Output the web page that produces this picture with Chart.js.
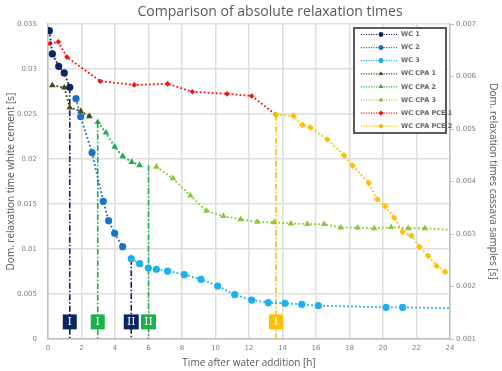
<!DOCTYPE html>
<html>
<head>
<meta charset="utf-8">
<script src="https://cdn.jsdelivr.net/npm/chart.js@4.4.1/dist/chart.umd.min.js"></script>
<style>
  html, body { margin: 0; padding: 0; background: #fff; }
</style>
</head>
<body>
<canvas id="chart" width="502" height="371"></canvas>
<script>
// time after water addition [h] / dominant relaxation time [s]
const wc1Time = [0.08, 0.26, 0.64, 0.97, 1.30]
const wc1Tau  = [0.03426, 0.03167, 0.0303, 0.02956, 0.02797]
const wc2Time = [1.67, 1.95, 2.63, 3.30, 3.62, 3.98, 4.46]
const wc2Tau  = [0.0267, 0.0247, 0.0207, 0.0153, 0.01315, 0.01174, 0.01026]
const wc3Time = [4.97, 5.47, 5.99, 6.47, 7.14, 8.14, 9.13, 10.13, 11.15, 12.16, 13.15, 14.15, 15.15, 16.14, 20.18, 21.17, 24.5]
const wc3Tau  = [0.00892, 0.00837, 0.00789, 0.00774, 0.00755, 0.00715, 0.00663, 0.00589, 0.00493, 0.00433, 0.00404, 0.00396, 0.00385, 0.0037, 0.00352, 0.00352, 0.0034]

// cassava samples (right axis)
const cpa1Time = [0.26, 0.97, 1.30, 1.95, 2.47]
const cpa1Tau  = [0.00583, 0.00579, 0.00541, 0.00534, 0.00524]
const cpa2Time = [2.97, 3.46, 3.98, 4.46, 5.0, 5.47]
const cpa2Tau  = [0.00513, 0.00493, 0.00466, 0.00448, 0.00437, 0.00431]
const cpa3Time = [6.47, 7.46, 8.5, 9.47, 10.47, 11.5, 12.5, 13.49, 14.5, 15.48, 16.48, 17.48, 18.49, 19.48, 20.48, 21.51, 22.51, 24.5]
const cpa3Tau  = [0.00428, 0.00406, 0.00373, 0.00344, 0.00334, 0.00328, 0.00323, 0.00322, 0.0032, 0.00319, 0.00319, 0.00312, 0.00312, 0.00311, 0.00313, 0.00311, 0.00311, 0.00307]
const pce1Time = [0.12, 0.62, 1.13, 3.12, 5.15, 7.14, 8.62, 10.69, 12.16, 13.61]
const pce1Tau  = [0.00663, 0.00666, 0.00637, 0.00591, 0.00584, 0.00586, 0.00571, 0.00567, 0.00563, 0.00527]
const pce2Time = [13.61, 14.65, 15.18, 15.66, 16.68, 17.67, 18.19, 19.15, 19.66, 20.14, 20.66, 21.18, 21.69, 22.19, 22.7, 23.2, 23.7, 24.5]
const pce2Tau  = [0.00527, 0.00525, 0.00508, 0.00503, 0.0048, 0.0045, 0.0043, 0.00397, 0.00366, 0.00353, 0.00331, 0.00304, 0.00297, 0.00275, 0.00258, 0.00239, 0.00228, 0.00218]

// phase markers (vertical dash-dot lines)
const guideLabels = ['I', 'I', 'II', 'II', 'I']
const guideTime   = [1.30, 2.97, 4.97, 6.0, 13.61]
const guideTop    = [0.02797, 0.00513, 0.00892, 0.00431, 0.00527]
const guideAxis   = ['y', 'y1', 'y', 'y1', 'y1']
const labelLevel  = 0.0019

const NAVY = '#0c2461', BLUE = '#1c72c8', SKY = '#1cb0f0'
const OLIVE = '#3b5010', GREEN = '#1bb14a', LIME = '#8cc83c'
const RED = '#ff1010', ORANGE = '#ffc000'
const guideColors = [NAVY, GREEN, NAVY, GREEN, ORANGE]

const pts = (xs, ys) => xs.map((x, i) => ({ x: x, y: ys[i] }))

function series(label, xs, ys, color, axis, style, radius, order) {
  return {
    label: label,
    data: pts(xs, ys),
    yAxisID: axis,
    order: order || 0,
    borderColor: color,
    backgroundColor: color,
    borderWidth: 1.8,
    borderDash: [1.8, 2.2],
    pointStyle: style,
    pointRadius: radius,
    pointHoverRadius: radius,
    pointBorderWidth: 0,
    showLegend: true
  }
}

const datasets = [
  series('WC 1', wc1Time, wc1Tau, NAVY, 'y', 'circle', 3.6),
  series('WC 2', wc2Time, wc2Tau, BLUE, 'y', 'circle', 3.6),
  series('WC 3', wc3Time, wc3Tau, SKY, 'y', 'circle', 3.6),
  series('WC CPA 1', cpa1Time, cpa1Tau, OLIVE, 'y1', 'triangle', 3.8),
  series('WC CPA 2', cpa2Time, cpa2Tau, GREEN, 'y1', 'triangle', 3.8),
  series('WC CPA 3', cpa3Time, cpa3Tau, LIME, 'y1', 'triangle', 3.8),
  series('WC CPA PCE 1', pce1Time, pce1Tau, RED, 'y1', 'rectRot', 2.8, 1),
  series('WC CPA PCE 2', pce2Time, pce2Tau, ORANGE, 'y1', 'rectRot', 3.3)
]

guideTime.forEach((t, i) => {
  const bottom = guideAxis[i] === 'y' ? 0 : 0.001
  datasets.push({
    label: 'guide ' + i,
    data: [{ x: t, y: guideTop[i] }, { x: t, y: bottom }],
    yAxisID: guideAxis[i],
    order: 2,
    borderColor: guideColors[i],
    borderWidth: 1.6,
    borderDash: [6, 2, 1.5, 2],
    pointRadius: 0,
    showLegend: false
  })
})

// title drawn slightly right of centre, as in the original
const titlePlugin = {
  id: 'titleText',
  afterDraw(chart) {
    const ctx = chart.ctx
    ctx.save()
    ctx.font = '14px "Open Sans"'
    ctx.fillStyle = '#595959'
    ctx.textAlign = 'center'
    ctx.textBaseline = 'middle'
    ctx.fillText('Comparison of absolute relaxation times', 270, 12)
    ctx.restore()
  }
}

// roman numeral boxes on the guide lines
const phasePlugin = {
  id: 'phaseBoxes',
  afterDatasetsDraw(chart) {
    const ctx = chart.ctx
    const yPix = chart.scales.y.getPixelForValue(labelLevel)
    ctx.save()
    guideTime.forEach((t, i) => {
      const xPix = chart.scales.x.getPixelForValue(t)
      const w = guideLabels[i].length > 1 ? 15 : 14
      ctx.fillStyle = guideColors[i]
      ctx.fillRect(xPix - w / 2, yPix - 7.5, w, 15)
      ctx.fillStyle = '#fff'
      ctx.font = '11px "DejaVu Serif"'
      ctx.textAlign = 'center'
      ctx.textBaseline = 'middle'
      ctx.fillText(guideLabels[i], xPix, yPix + 0.5)
    })
    ctx.restore()
  }
}

// boxed legend inside the plot area
const legendPlugin = {
  id: 'boxLegend',
  afterDraw(chart) {
    const ctx = chart.ctx
    const left = 354, top = 28, w = 92, h = 105
    ctx.save()
    ctx.fillStyle = '#fff'
    ctx.fillRect(left, top, w, h)
    ctx.strokeStyle = '#333'
    ctx.lineWidth = 1.6
    ctx.strokeRect(left, top, w, h)
    const items = chart.data.datasets.filter(d => d.showLegend)
    items.forEach((d, i) => {
      const y = top + 6.5 + i * 13.1
      ctx.strokeStyle = d.borderColor
      ctx.lineWidth = 1.2
      ctx.setLineDash([1.2, 1.3])
      ctx.beginPath()
      ctx.moveTo(left + 7, y)
      ctx.lineTo(left + 44, y)
      ctx.stroke()
      ctx.setLineDash([])
      Chart.helpers.drawPoint(ctx, {
        pointStyle: d.pointStyle, radius: 2.4, rotation: 0, borderWidth: 0
      }, left + 27, y)
      ctx.fillStyle = d.borderColor
      ctx.fill()
      ctx.fillStyle = '#666'
      ctx.font = 'bold 6.5px "DejaVu Sans"'
      ctx.textAlign = 'left'
      ctx.textBaseline = 'middle'
      ctx.fillText(d.label, left + 47, y)
    })
    ctx.restore()
  }
}

const tickFmt = v => String(+v.toFixed(4))
const GRID = '#dedede', AXIS = '#bfbfbf', TEXT = '#595959', TICK = '#7f7f7f'

new Chart(document.getElementById('chart').getContext('2d'), {
  type: 'line',
  data: { datasets: datasets },
  plugins: [titlePlugin, phasePlugin, legendPlugin],
  options: {
    responsive: false,
    animation: false,
    layout: { padding: { top: 24, left: 0, right: 0, bottom: 0 } },
    plugins: {
      legend: { display: false },
      title: { display: false },
      tooltip: { enabled: false }
    },
    scales: {
      x: {
        type: 'linear',
        min: 0,
        max: 24,
        afterFit: s => { s.height = 32 },
        ticks: { stepSize: 2, padding: 5, color: TICK, font: { family: 'DejaVu Sans', size: 7 } },
        grid: { color: GRID, lineWidth: 1.5, drawTicks: false },
        border: { color: AXIS, width: 1.5 },
        title: {
          display: true,
          text: 'Time after water addition [h]',
          color: TEXT,
          font: { family: 'Open Sans', size: 10 },
          padding: { top: 0, bottom: 2 }
        }
      },
      y: {
        type: 'linear',
        position: 'left',
        min: 0,
        max: 0.035,
        afterFit: s => { s.width = 48 },
        ticks: { stepSize: 0.005, padding: 11, color: TICK, callback: tickFmt, font: { family: 'DejaVu Sans', size: 7 } },
        grid: { color: GRID, lineWidth: 1.5, drawTicks: false },
        border: { color: AXIS, width: 1.5 },
        title: {
          display: true,
          text: 'Dom. relaxation time white cement [s]',
          color: TEXT,
          font: { family: 'Open Sans', size: 10 },
          padding: { top: 5, bottom: 0 }
        }
      },
      y1: {
        type: 'linear',
        position: 'right',
        min: 0.001,
        max: 0.007,
        afterFit: s => { s.width = 52 },
        ticks: { stepSize: 0.001, padding: 2, color: TICK, callback: tickFmt, font: { family: 'DejaVu Sans', size: 7 } },
        grid: { drawOnChartArea: false, color: AXIS, tickLength: 4 },
        border: { color: AXIS, width: 1.5 },
        title: {
          display: true,
          text: 'Dom. relaxation times cassava samples [s]',
          color: TEXT,
          font: { family: 'Open Sans', size: 10 },
          padding: { top: 3, bottom: 0 }
        }
      }
    }
  }
})
</script>
</body>
</html>
